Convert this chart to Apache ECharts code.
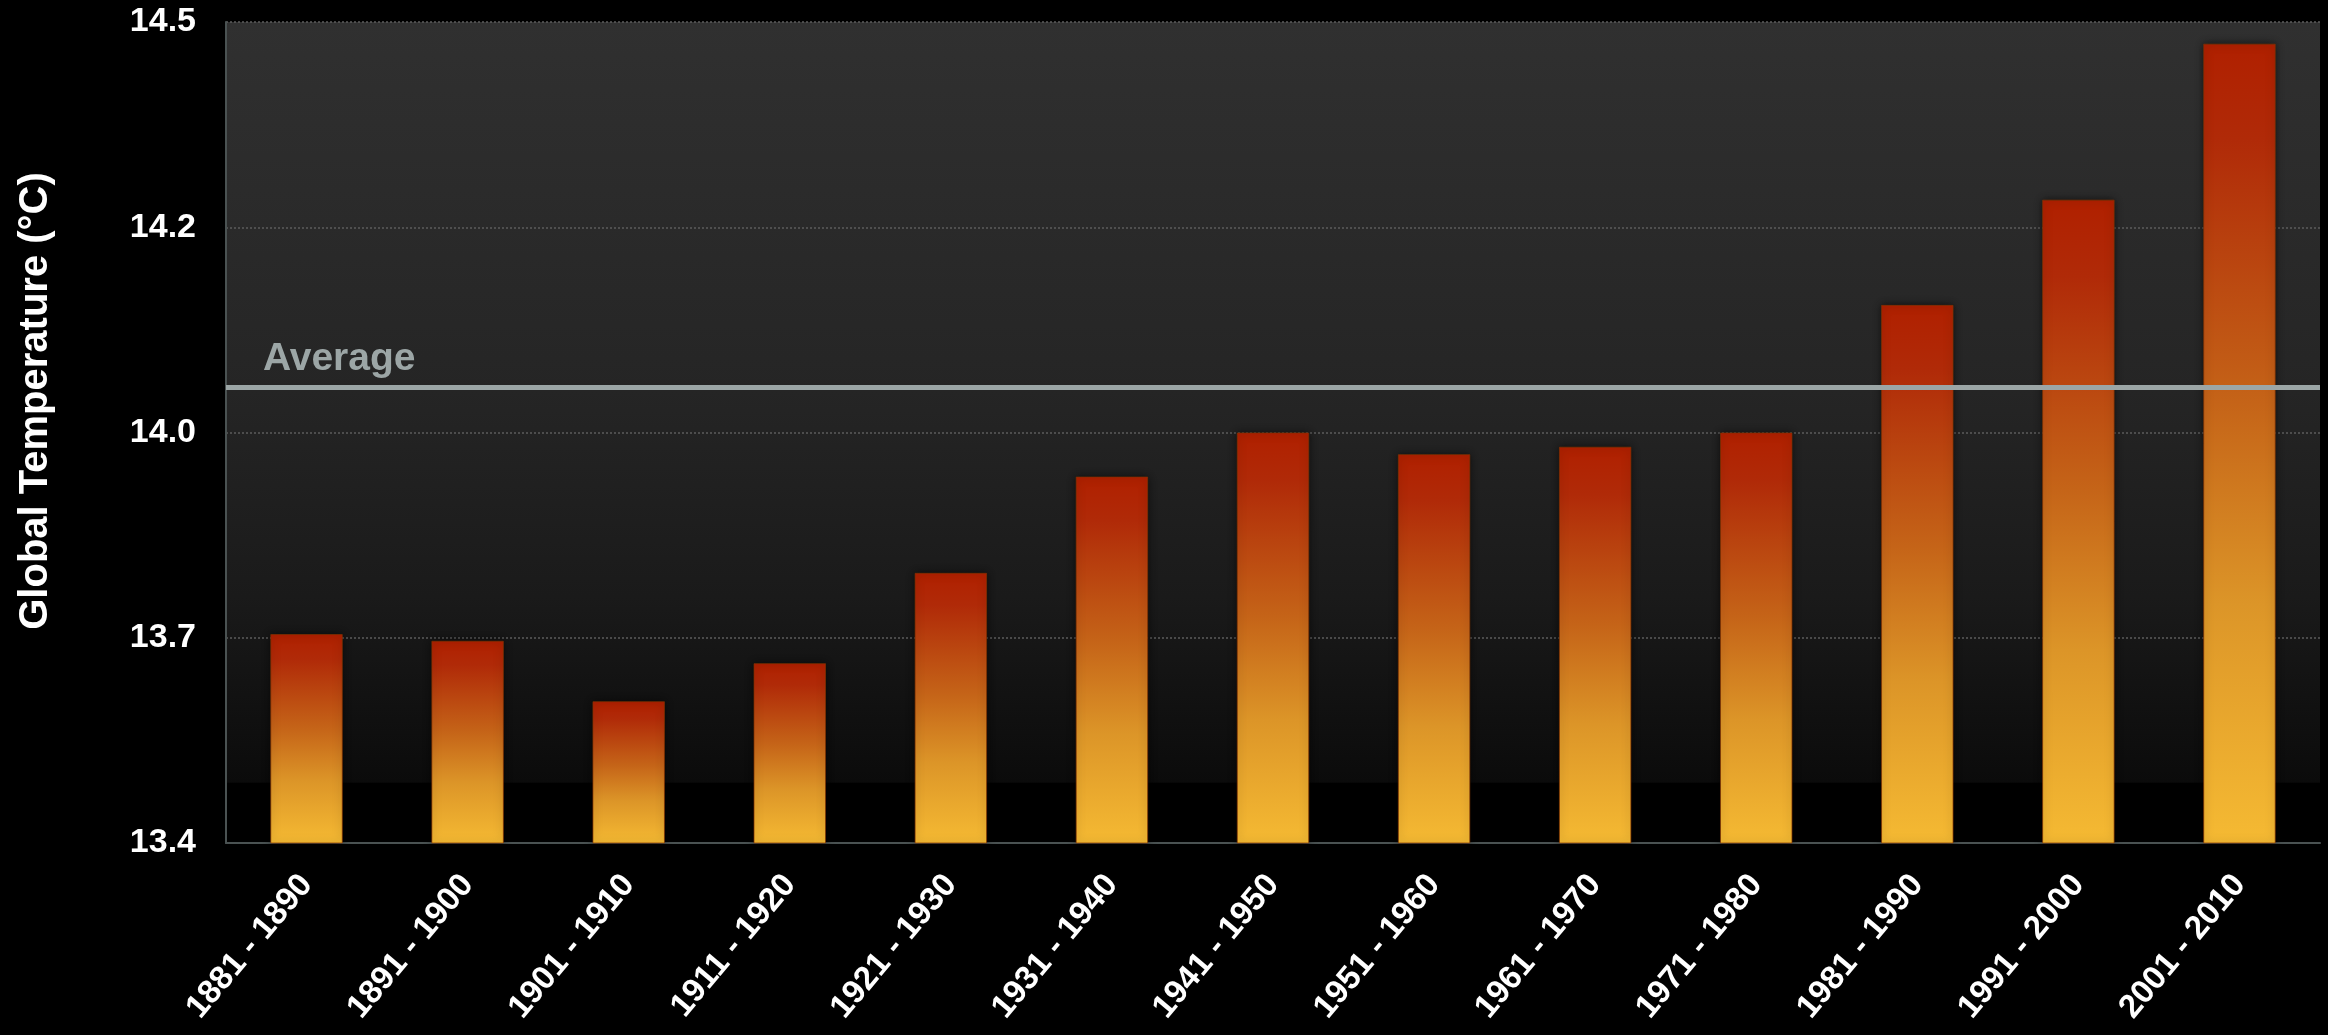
<!DOCTYPE html>
<html>
<head>
<meta charset="utf-8">
<script src="https://cdn.jsdelivr.net/npm/echarts@6/dist/echarts.min.js"></script>
<style>
html,body{margin:0;padding:0;background:#000;}
#main{width:2328px;height:1035px;}
</style>
</head>
<body>
<div id="main"></div>
<script>
const categories = ['1881 - 1890','1891 - 1900','1901 - 1910','1911 - 1920','1921 - 1930','1931 - 1940','1941 - 1950','1951 - 1960','1961 - 1970','1971 - 1980','1981 - 1990','1991 - 2000','2001 - 2010'];
const temperatures = [13.680, 13.671, 13.590, 13.641, 13.762, 13.891, 13.950, 13.921, 13.931, 13.950, 14.121, 14.262, 14.471];
const averageValue = 14.008;
const yMin = 13.4, yMax = 14.5, yInterval = 0.275;

const chart = echarts.init(document.getElementById('main'));
const font = '"Liberation Sans", Arial, Helvetica, sans-serif';
chart.setOption({
  backgroundColor: '#000',
  animation: false,
  grid: {
    left: 226, right: 8, top: 22, bottom: 192,
    show: true, borderWidth: 0,
    backgroundColor: new echarts.graphic.LinearGradient(0,0,0,1,[
      {offset:0, color:'#303030'},
      {offset:0.45, color:'#252525'},
      {offset:0.7, color:'#1a1a1a'},
      {offset:0.85, color:'#101010'},
      {offset:0.926, color:'#0b0b0b'},
      {offset:0.927, color:'#000'},
      {offset:1, color:'#000'}
    ])
  },
  xAxis: {
    type: 'category',
    data: categories,
    axisLine: {show:true, lineStyle:{color:'#4a5252', width:2}},
    axisTick: {show:false},
    axisLabel: {color:'#fff', fontSize:33, fontWeight:'bold', fontFamily:font, rotate:50, margin:36, interval:0}
  },
  yAxis: {
    type: 'value',
    min: yMin, max: yMax, interval: yInterval,
    axisLine: {show:true, lineStyle:{color:'#4a5252', width:2}},
    axisTick: {show:false},
    axisLabel: {color:'#fff', fontSize:34, fontWeight:'bold', fontFamily:font, margin:30,
      formatter: v => (Math.round(v * 10 + 1e-6) / 10).toFixed(1)},
    splitLine: {show:true, lineStyle:{color:'#5c5c5c', width:1.5, type:[2,2]}}
  },
  graphic: [{
    type: 'text',
    rotation: Math.PI/2,
    x: 36, y: 401,
    style: {text:'Global Temperature (°C)', fill:'#fff', font:'bold 40px ' + font, align:'center', verticalAlign:'middle'}
  }],
  series: [{
    type: 'bar',
    data: temperatures,
    barWidth: '45%',
    itemStyle: {
      color: new echarts.graphic.LinearGradient(0,0,0,1,[
        {offset:0, color:'#b02000'},
        {offset:0.12, color:'#b02a08'},
        {offset:0.45, color:'#c56418'},
        {offset:0.7, color:'#dc9528'},
        {offset:1, color:'#f5ba33'}
      ]),
      borderColor: 'rgba(130,50,0,0.7)',
      borderWidth: 1,
      shadowColor: 'rgba(0,0,0,0.6)',
      shadowBlur: 8
    },
    markLine: {
      silent: true,
      symbol: ['none','none'],
      lineStyle: {color:'#9ca6a6', width:5, type:'solid'},
      label: {show:true, position:'insideStartTop', formatter:'Average', color:'#9ca6a6', fontSize:39, fontWeight:'bold', fontFamily:font, distance:[37,9]},
      data: [{yAxis: averageValue}]
    }
  }]
});
</script>
</body>
</html>
